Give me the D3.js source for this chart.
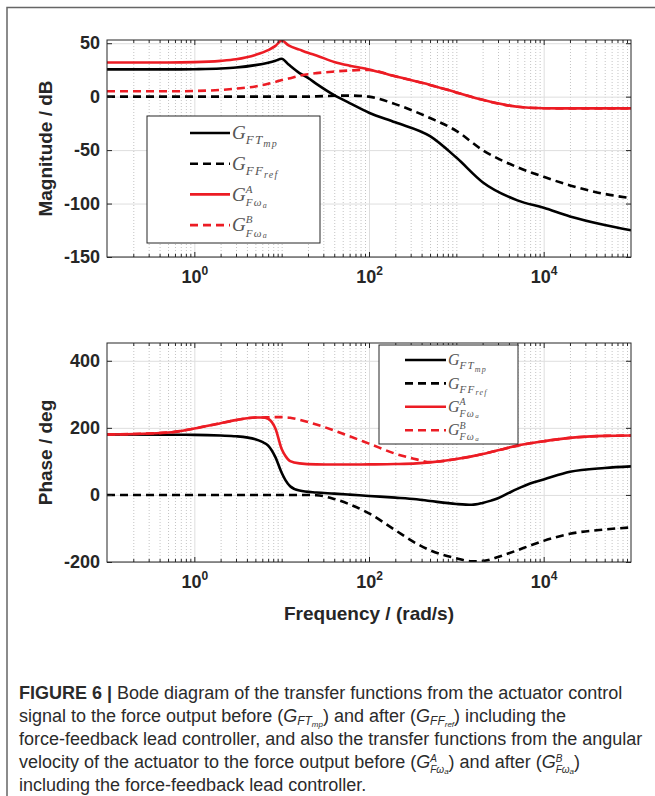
<!DOCTYPE html>
<html>
<head>
<meta charset="utf-8">
<script src="https://cdn.jsdelivr.net/npm/d3@7"></script>
<style>
body { margin: 0; background: #fff; }
text { white-space: pre; }
</style>
</head>
<body>
<div id="viz"></div>
<script>
// ---- data ----
// magnitude plot (dB)
var freqMag = [0.1, 0.5, 1, 2, 3, 5, 7, 8.5, 10, 12, 16, 20, 25, 40, 60, 100, 200, 500, 1000, 2000, 5000, 10000, 20000, 50000, 100000];
var magFTmp = [25.5, 25.5, 25.7, 26.3, 27.2, 29.5, 31.8, 33.6, 35.5, 30, 22, 17.5, 12, 1.4, -6, -15, -24, -37, -57, -80, -97, -104, -112, -120, -125];
var magFFref = [0, 0, 0, 0, 0, 0, 0, 0, 0, 0, 0, 0, 0.3, 0.8, 1, 0, -7, -20, -32, -50, -66, -75, -83, -91, -95];
var magFwA = [32, 32, 32.3, 33.5, 35, 39, 43.5, 47.5, 52.5, 48, 44, 41, 38.5, 32.5, 29, 25.5, 19, 11, 4, -3, -9.5, -10.8, -11, -11, -11];
var magFwB = [5, 5, 5.3, 6.3, 7.5, 9.5, 12, 13.8, 15.5, 17, 19.5, 21, 22, 23.5, 24.5, 25, 19, 11, 4, -3, -9.5, -10.8, -11, -11, -11];

// phase plot (deg)
var freqPhase = [0.1, 0.5, 1, 2, 3, 5, 6, 7, 8.5, 10, 11, 12.5, 16, 25, 40, 60, 100, 200, 350, 500, 1000, 1500, 2000, 2500, 3000, 4000, 5000, 7000, 10000, 20000, 50000, 100000];
var phFTmp = [180, 179.5, 179, 177, 175, 166, 158, 147, 112, 66, 45, 26, 13, 7, 4, 1, -3, -8, -13, -18, -27, -29.5, -24, -17, -10, 6, 18, 34, 46, 69, 80.5, 85];
var phFFref = [0, 0, 0, 0, 0, 0, 0, 0, 0, 0, 0, 0, 0, -1, -12, -28, -55, -105, -145, -165, -189, -198, -197, -192, -185, -174, -165, -151, -137, -116, -103, -97];
var phFwA = [180, 186, 198, 214, 223, 231, 231, 227, 197, 137, 117, 101, 94, 91, 90.5, 90.5, 91, 92, 94, 97, 107, 115, 122, 128, 133, 141, 147, 154, 160, 170, 176, 177];
var phFwB = [180, 186, 198, 214, 223, 231, 231, 231.5, 232, 232, 231.5, 230, 224, 210, 192, 175, 153, 123, 106, 98, 107, 115, 122, 128, 133, 141, 147, 154, 160, 170, 176, 177];

var magTicks = [50, 0, -50, -100, -150];
var phaseTicks = [400, 200, 0, -200];
var xLabelTicks = [1, 100, 10000];

var seriesStyle = [
    {name: "FTmp", color: "#000000", dash: null},
    {name: "FFref", color: "#000000", dash: "8,5"},
    {name: "FwA", color: "#ec1c24", dash: null},
    {name: "FwB", color: "#ec1c24", dash: "8,5"}
];

var sansFont = "'Liberation Sans', Arial, Helvetica, sans-serif";
var serifFont = "'Liberation Serif', 'Times New Roman', serif";
var axisColor = "#262626";

var svg = d3.select("#viz").append("svg")
    .attr("width", 655)
    .attr("height", 796);

// outer frame (left and top only)
svg.append("path")
    .attr("d", "M7,796V7.5H655")
    .attr("fill", "none")
    .attr("stroke", "#666")
    .attr("stroke-width", 1.5);

var xScale = d3.scaleLog()
    .domain([0.1, 1e5])
    .range([107, 631]);

// minor decade positions 2..9 x 10^n plus the unlabelled decades
var minorTicks = [];
for (var e = -1; e < 5; e++) {
    for (var k = 1; k < 10; k++) {
        if (k == 1 && (e % 2 == 0 || e == -1)) continue;
        minorTicks.push(k * Math.pow(10, e));
    }
}

// one text element, pieces as tspans (for sub/superscripts)
function drawRich(g, x, y, segs, color) {
    var t = g.append("text")
        .attr("x", x)
        .attr("y", y)
        .attr("fill", color);
    var curDy = 0, back = 0;
    segs.forEach(function(s) {
        var dy = s.dy || 0;
        var ts = t.append("tspan")
            .attr("dy", dy - curDy)
            .attr("font-family", s.serif ? serifFont : sansFont)
            .attr("font-size", s.size)
            .attr("font-style", s.italic ? "italic" : "normal")
            .attr("font-weight", s.bold ? "bold" : "normal")
            .attr("letter-spacing", s.ls || 0)
            .text(s.t);
        if (back) ts.attr("dx", -back);
        back = 0;
        curDy = dy;
        if (s.stay) back = ts.node().getComputedTextLength();
    });
    return t;
}

// G with sub/superscripts; serif = legend (LaTeX look), sans = caption (tighter)
function legendSegs(name, big, serif) {
    var ls = serif ? 1.2 : 0;
    var G = {t: "G", size: big, italic: true, serif: serif};
    if (name == "FTmp" || name == "FFref") {
        var s1 = Math.round(big * (serif ? 0.7 : 0.65)), s2 = Math.round(big * (serif ? 0.5 : 0.45));
        var d1 = serif ? 0.25 : 0.17, d2 = serif ? 0.42 : 0.25;
        var a = name == "FTmp" ? "FT" : "FF", b = name == "FTmp" ? "mp" : "ref";
        return [G, {t: a, size: s1, italic: true, serif: serif, dy: big * d1, ls: ls},
            {t: b, size: s2, italic: true, serif: serif, dy: big * d2, ls: ls}];
    }
    // stacked super- and subscript
    var sz = Math.round(big * (serif ? 0.6 : 0.55)), sa = Math.round(big * 0.42);
    var up = serif ? 0.42 : 0.36, dn = serif ? 0.28 : 0.26;
    var sup = name == "FwA" ? "A" : "B";
    return [G, {t: sup, size: sz, italic: true, serif: serif, dy: -big * up, stay: true},
        {t: "F\u03c9", size: sz, italic: true, serif: serif, dy: big * dn, ls: ls},
        {t: "a", size: sa, italic: true, serif: serif, dy: big * (dn + 0.08)}];
}

function drawPanel(top, bottom, yDomain, yTicks, yLabel, freq, values, legend) {
    var yScale = d3.scaleLinear().domain(yDomain).range([bottom, top]);
    var h = bottom - top;
    var g = svg.append("g");

    // grid
    g.append("g")
        .attr("transform", "translate(0," + bottom + ")")
        .call(d3.axisBottom(xScale).tickValues(minorTicks).tickSize(-h).tickFormat(""))
        .call(function(a) {
            a.select(".domain").remove();
            a.selectAll("line").attr("stroke", "#c4c4c4").attr("stroke-dasharray", "1,2");
        });
    g.append("g")
        .attr("transform", "translate(0," + bottom + ")")
        .call(d3.axisBottom(xScale).tickValues(xLabelTicks).tickSize(-h).tickFormat(""))
        .call(function(a) {
            a.select(".domain").remove();
            a.selectAll("line").attr("stroke", "#dedede");
        });
    g.append("g")
        .attr("transform", "translate(107,0)")
        .call(d3.axisLeft(yScale).tickValues(yTicks).tickSize(-524).tickFormat(""))
        .call(function(a) {
            a.select(".domain").remove();
            a.selectAll("line").attr("stroke", "#dedede");
        });

    // curves
    var clipId = "clip" + top;
    svg.append("clipPath").attr("id", clipId)
        .append("rect")
        .attr("x", 107).attr("y", top)
        .attr("width", 524).attr("height", h);

    var line = d3.line()
        .x(function(d) { return xScale(d[0]); })
        .y(function(d) { return yScale(d[1]); })
        .curve(d3.curveMonotoneX);

    values.forEach(function(vals, i) {
        var pts = freq.map(function(f, j) { return [f, vals[j]]; });
        g.append("path")
            .datum(pts)
            .attr("clip-path", "url(#" + clipId + ")")
            .attr("d", line)
            .attr("fill", "none")
            .attr("stroke", seriesStyle[i].color)
            .attr("stroke-width", 2.6)
            .attr("stroke-dasharray", seriesStyle[i].dash);
    });

    // axes: ticks inward on all four sides
    var ticks = g.append("g");
    var xb = ticks.append("g")
        .attr("transform", "translate(0," + bottom + ")")
        .call(d3.axisBottom(xScale).tickValues(xLabelTicks).tickSize(-5).tickPadding(13));
    xb.selectAll("text").each(function(d) {
        var t = d3.select(this).text("");
        t.append("tspan").text("10");
        t.append("tspan").attr("font-size", 12).attr("dy", -8).text(Math.round(Math.log10(d)));
    });
    ticks.append("g")
        .attr("transform", "translate(0," + bottom + ")")
        .call(d3.axisBottom(xScale).tickValues(minorTicks).tickSize(-3).tickFormat(""));
    ticks.append("g")
        .attr("transform", "translate(0," + top + ")")
        .call(d3.axisTop(xScale).tickValues(xLabelTicks).tickSize(-5).tickFormat(""));
    ticks.append("g")
        .attr("transform", "translate(0," + top + ")")
        .call(d3.axisTop(xScale).tickValues(minorTicks).tickSize(-3).tickFormat(""));
    ticks.append("g")
        .attr("transform", "translate(107,0)")
        .call(d3.axisLeft(yScale).tickValues(yTicks).tickSize(-5).tickPadding(7)
            .tickFormat(function(d) { return String(d); }));
    ticks.append("g")
        .attr("transform", "translate(631,0)")
        .call(d3.axisRight(yScale).tickValues(yTicks).tickSize(-5).tickFormat(""));

    ticks.selectAll(".domain").remove();
    ticks.selectAll(".tick line").attr("stroke", axisColor);
    ticks.selectAll(".tick text")
        .attr("font-family", sansFont)
        .attr("font-size", 18)
        .attr("font-weight", "bold")
        .attr("fill", axisColor);

    g.append("rect")
        .attr("x", 107).attr("y", top)
        .attr("width", 524).attr("height", h)
        .attr("fill", "none")
        .attr("stroke", axisColor)
        .attr("stroke-width", 1);

    g.append("text")
        .attr("transform", "translate(52," + (top + h / 2) + ") rotate(-90)")
        .attr("text-anchor", "middle")
        .attr("font-family", sansFont)
        .attr("font-size", 19)
        .attr("font-weight", "bold")
        .attr("fill", axisColor)
        .text(yLabel);

    // legend
    var lg = g.append("g");
    lg.append("rect")
        .attr("x", legend.x).attr("y", legend.y)
        .attr("width", legend.w).attr("height", legend.h)
        .attr("fill", "#fff")
        .attr("stroke", axisColor)
        .attr("stroke-width", 1);
    seriesStyle.forEach(function(s, i) {
        var ly = legend.firstY + i * legend.step;
        lg.append("line")
            .attr("x1", legend.lineX).attr("x2", legend.lineX + legend.lineW)
            .attr("y1", ly).attr("y2", ly)
            .attr("stroke", s.color)
            .attr("stroke-width", 2.6)
            .attr("stroke-dasharray", s.dash);
        drawRich(lg, legend.lineX + legend.lineW + 2, ly + legend.fs * 0.33, legendSegs(s.name, legend.fs, true), "#555");
    });
    return g;
}

drawPanel(40, 257, [-150, 53], magTicks, "Magnitude / dB", freqMag,
    [magFTmp, magFFref, magFwA, magFwB],
    {x: 147, y: 116, w: 173, h: 127, firstY: 133, step: 30.7, lineX: 190, lineW: 40, fs: 19});

drawPanel(343, 562, [-200, 453], phaseTicks, "Phase / deg", freqPhase,
    [phFTmp, phFFref, phFwA, phFwB],
    {x: 379, y: 345, w: 139, h: 99, firstY: 360, step: 23.4, lineX: 405, lineW: 41, fs: 16});

svg.append("text")
    .attr("x", 369)
    .attr("y", 620)
    .attr("text-anchor", "middle")
    .attr("font-family", sansFont)
    .attr("font-size", 19)
    .attr("font-weight", "bold")
    .attr("fill", axisColor)
    .text("Frequency / (rad/s)");

// caption
var capColor = "#2b2b2b";
var capSize = 18;
var capLines = [
    [{t: "FIGURE 6 | ", bold: true, size: capSize}, {t: "Bode diagram of the transfer functions from the actuator control", size: capSize}],
    [{t: "signal to the force output before (", size: capSize}].concat(legendSegs("FTmp", capSize, false))
        .concat([{t: ") and after (", size: capSize}]).concat(legendSegs("FFref", capSize, false))
        .concat([{t: ") including the", size: capSize}]),
    [{t: "force-feedback lead controller, and also the transfer functions from the angular", size: capSize}],
    [{t: "velocity of the actuator to the force output before (", size: capSize}].concat(legendSegs("FwA", capSize, false))
        .concat([{t: ") and after (", size: capSize}]).concat(legendSegs("FwB", capSize, false))
        .concat([{t: ")", size: capSize}]),
    [{t: "including the force-feedback lead controller.", size: capSize}]
];
var capG = svg.append("g");
capLines.forEach(function(segs, i) {
    drawRich(capG, 19, 699 + i * 23, segs, capColor);
});
</script>
</body>
</html>
